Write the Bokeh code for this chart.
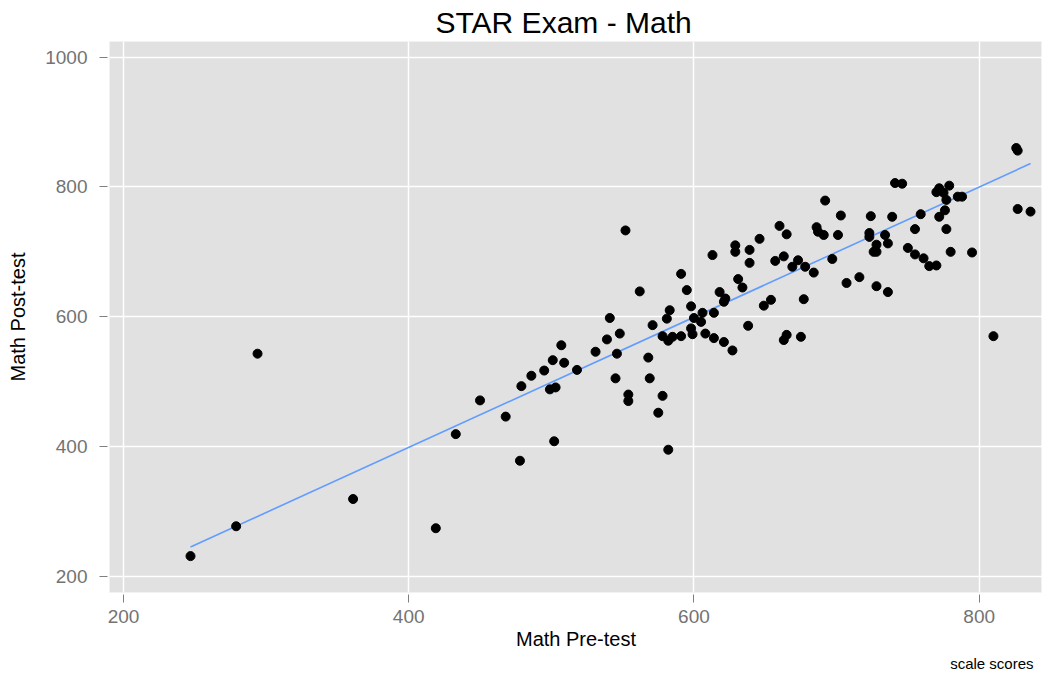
from bokeh.plotting import figure
from bokeh.models import Range1d, Title, ColumnDataSource
from bokeh.embed import file_html
from bokeh.resources import INLINE

# Math pre-test / post-test scale scores
pre_test = [294, 433, 279, 361, 419, 247,
            562, 541, 539, 548, 531, 546, 507, 501, 509, 518, 495, 486, 479, 499, 503,
            545, 554, 554, 450, 468, 502, 478,
            552, 613, 629, 629, 591, 595, 618, 631, 634, 622, 621, 598, 583, 581, 606,
            600, 605, 614, 571, 598, 599, 608, 614, 621, 627, 578, 585, 582, 591, 568, 569,
            692, 703, 724, 660, 686, 687, 691, 665, 701, 723, 723, 728, 726, 728, 646,
            639, 639, 663, 657, 673, 669, 678, 684, 697, 707, 716, 728, 654, 649, 677,
            638, 665, 663, 675,
            826, 827, 741, 746, 770, 772, 779, 775, 777, 785, 788, 827, 836, 739, 759,
            776, 772, 755, 777, 734, 736, 750, 755, 761, 765, 770, 780, 795, 736, 810,
            578, 575, 582]
post_test = [543, 419, 277, 319, 274, 231,
             639, 598, 565, 574, 546, 543, 556, 533, 529, 518, 517, 509, 493, 488, 491,
             505, 480, 470, 471, 446, 408, 378,
             733, 695, 710, 700, 666, 641, 638, 658, 645, 628, 623, 616, 610, 597, 606,
             598, 592, 606, 587, 582, 573, 574, 567, 561, 548, 570, 569, 563, 570, 537, 505,
             779, 756, 755, 740, 738, 731, 726, 727, 726, 729, 723, 711, 700, 700, 720,
             703, 683, 693, 686, 687, 677, 677, 668, 689, 652, 661, 647, 626, 617, 627,
             586, 572, 564, 569,
             860, 856, 806, 805, 792, 798, 802, 791, 780, 785, 785, 766, 762, 754, 758,
             764, 754, 735, 735, 726, 713, 706, 696, 690, 678, 679, 700, 699, 638, 570,
             478, 452, 395]

# linear-fit (smoother) line, end points
fit_x = [247, 836]
fit_y = [245, 836]

x_ticks = [200, 400, 600, 800]
y_ticks = [200, 400, 600, 800, 1000]

title_text = "STAR Exam - Math"
x_label = "Math Pre-test"
y_label = "Math Post-test"
caption = "scale scores"

FONT = "Liberation Sans"

p = figure(width=1042, height=676, output_backend="svg", toolbar_location=None,
           x_range=Range1d(190.2, 844.4), y_range=Range1d(174.9, 1024.2),
           min_border_left=109, min_border_right=0, min_border_top=40,
           min_border_bottom=84)

p.background_fill_color = "#E1E1E1"
p.border_fill_color = "white"
p.outline_line_color = "#F2F2F2"
p.outline_line_width = 1

# title
p.title.text = title_text
p.title.align = "left"
p.title.offset = 326
p.title.text_font = FONT
p.title.text_font_size = "30px"
p.title.text_font_style = "normal"
p.title.text_color = "black"
p.title.standoff = 6

# grids
p.xgrid.ticker = x_ticks
p.ygrid.ticker = y_ticks
for g in (p.xgrid, p.ygrid):
    g.grid_line_color = "white"
    g.grid_line_width = 1.5
    g.minor_grid_line_color = None

# axes
p.xaxis.ticker = x_ticks
p.yaxis.ticker = y_ticks
for ax in (p.xaxis, p.yaxis):
    ax.axis_line_color = None
    ax.major_tick_in = -2
    ax.major_tick_out = 10
    ax.major_tick_line_color = "#7F7F7F"
    ax.major_tick_line_width = 1
    ax.minor_tick_line_color = None
    ax.major_label_text_font = FONT
    ax.major_label_text_font_size = "19px"
    ax.major_label_text_color = "#737373"
    ax.axis_label_text_font = FONT
    ax.axis_label_text_font_size = "20px"
    ax.axis_label_text_font_style = "normal"
    ax.axis_label_text_color = "black"

p.xaxis.axis_label = x_label
p.yaxis.axis_label = y_label
p.xaxis.major_label_standoff = 7
p.yaxis.major_label_standoff = 12
p.xaxis.axis_label_standoff = 2
p.yaxis.axis_label_standoff = 13

# caption
cap = Title(text=caption, align="right", offset=9, text_font=FONT,
            text_font_size="15px", text_font_style="normal", text_color="black",
            standoff=0)
p.add_layout(cap, "below")

# data
src = ColumnDataSource(data=dict(pre=pre_test, post=post_test))
p.line(fit_x, fit_y, line_color="#619CFF", line_width=1.6)
p.scatter("pre", "post", source=src, size=9, fill_color="black", line_color="black")

open("out.html", "w").write(file_html(p, INLINE))
